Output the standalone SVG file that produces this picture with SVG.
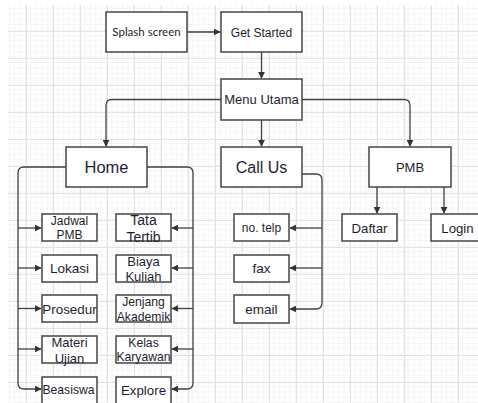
<svg xmlns="http://www.w3.org/2000/svg" width="478" height="403" viewBox="0 0 478 403">
<defs>
<pattern id="minor" x="26" y="4" width="5.4" height="5.4" patternUnits="userSpaceOnUse">
<path d="M0.5 0V5.4M0 0.5H5.4" stroke="#f4f4f4" stroke-width="1" fill="none"/>
</pattern>
<pattern id="major" x="26" y="4" width="27" height="27" patternUnits="userSpaceOnUse">
<rect width="27" height="27" fill="url(#minor)"/>
<path d="M0.5 0V27M0 0.5H27" stroke="#e2e2e2" stroke-width="1" fill="none"/>
</pattern>
<marker id="arr" viewBox="0 0 10 10" refX="9" refY="5" markerWidth="7" markerHeight="7" markerUnits="userSpaceOnUse" orient="auto">
<path d="M0 0L10 5L0 10Z" fill="#333"/>
</marker>
</defs>
<style>
.box{fill:#fff;stroke:#444;stroke-width:1.5}
.t{font-family:"Liberation Sans",Arial,sans-serif;fill:#1e1e30;text-anchor:middle}
.c{fill:none;stroke:#404040;stroke-width:1.3}
.a{marker-end:url(#arr)}
</style>
<rect width="478" height="403" fill="#fff"/>
<rect x="8" y="5" width="470" height="398" fill="url(#major)"/>

<g id="connectors">
<path class="c a" d="M187 32H220"/>
<path class="c a" d="M261.5 52V78"/>
<path class="c a" d="M221 99.5H112Q106 99.5 106 105.5V146"/>
<path class="c a" d="M261.5 120V146"/>
<path class="c a" d="M302 99.5H404Q410 99.5 410 105.5V146"/>
<path class="c a" d="M66 167H24Q18 167 18 173V383Q18 389 24 389H41"/>
<path class="c a" d="M18 228H41"/>
<path class="c a" d="M18 268H41"/>
<path class="c a" d="M18 308.5H41"/>
<path class="c a" d="M18 349H41"/>
<path class="c a" d="M147 167H187Q193 167 193 173V383Q193 389 187 389H172"/>
<path class="c a" d="M193 228H172"/>
<path class="c a" d="M193 268H172"/>
<path class="c a" d="M193 308.5H172"/>
<path class="c a" d="M193 349H172"/>
<path class="c a" d="M302 174H316Q322 174 322 180V303Q322 309 316 309H290"/>
<path class="c a" d="M322 228H290"/>
<path class="c a" d="M322 268H290"/>
<path class="c a" d="M377 187V213"/>
<path class="c a" d="M444 187V213"/>
</g>

<g id="splash"><rect class="box" x="106" y="12" width="81" height="40"/><text class="t" x="146.5" y="36" style="font-family:Lato,'Liberation Sans',sans-serif;font-size:11.5px">Splash screen</text></g>
<g id="getstarted"><rect class="box" x="221" y="12" width="81" height="40"/><text class="t" x="261.5" y="36.5" font-size="12">Get Started</text></g>
<g id="menu"><rect class="box" x="221" y="79" width="81" height="41"/><text class="t" x="261.5" y="104" font-size="13">Menu Utama</text></g>
<g id="home"><rect class="box" x="66" y="147" width="81" height="40"/><text class="t" x="106.5" y="173" font-size="16.5">Home</text></g>
<g id="callus"><rect class="box" x="221" y="147" width="81" height="40"/><text class="t" x="261.5" y="173" font-size="16">Call Us</text></g>
<g id="pmb"><rect class="box" x="369" y="147" width="82" height="40"/><text class="t" x="410" y="172" font-size="13">PMB</text></g>

<g id="jadwal"><rect class="box" x="42" y="214" width="55" height="27"/><text class="t" font-size="12"><tspan x="69.5" y="225">Jadwal</tspan><tspan x="69.5" y="238.5">PMB</tspan></text></g>
<g id="lokasi"><rect class="box" x="42" y="255" width="55" height="27"/><text class="t" x="69.5" y="273" font-size="13.5">Lokasi</text></g>
<g id="prosedur"><rect class="box" x="42" y="295" width="55" height="27"/><text class="t" x="69.5" y="313.5" font-size="13.4">Prosedur</text></g>
<g id="materi"><rect class="box" x="42" y="336" width="55" height="27"/><text class="t" font-size="13"><tspan x="69.5" y="346.5">Materi</tspan><tspan x="69.5" y="362.5">Ujian</tspan></text></g>
<g id="beasiswa"><rect class="box" x="42" y="377" width="55" height="28"/><text class="t" x="68.5" y="394" font-size="12.2">Beasiswa</text></g>

<g id="tatatertib"><rect class="box" x="116" y="214" width="55" height="27"/><text class="t" font-size="14"><tspan x="143.5" y="225">Tata</tspan><tspan x="143.5" y="242">Tertib</tspan></text></g>
<g id="biaya"><rect class="box" x="116" y="255" width="55" height="27"/><text class="t" font-size="13"><tspan x="143.5" y="265.5">Biaya</tspan><tspan x="143.5" y="281">Kuliah</tspan></text></g>
<g id="jenjang"><rect class="box" x="116" y="295" width="55" height="27"/><text class="t" font-size="12.2"><tspan x="143.5" y="306">Jenjang</tspan><tspan x="143.5" y="320.5">Akademik</tspan></text></g>
<g id="kelas"><rect class="box" x="116" y="336" width="55" height="27"/><text class="t" font-size="12.2"><tspan x="143.5" y="346.5">Kelas</tspan><tspan x="143.5" y="361">Karyawan</tspan></text></g>
<g id="explore"><rect class="box" x="116" y="377" width="55" height="28"/><text class="t" x="143.5" y="394.5" font-size="13.3">Explore</text></g>

<g id="notelp"><rect class="box" x="234" y="214" width="55" height="27"/><text class="t" x="261.5" y="232" font-size="12">no. telp</text></g>
<g id="fax"><rect class="box" x="234" y="255" width="55" height="27"/><text class="t" x="261.5" y="273" font-size="13.5">fax</text></g>
<g id="email"><rect class="box" x="234" y="295" width="55" height="28"/><text class="t" x="261.5" y="314" font-size="13.5">email</text></g>
<g id="daftar"><rect class="box" x="342" y="214" width="55" height="27"/><text class="t" x="369.5" y="232.5" font-size="13.2">Daftar</text></g>
<g id="login"><rect class="box" x="431" y="214" width="55" height="27"/><text class="t" x="457.5" y="232.5" font-size="13.2">Login</text></g>
</svg>
